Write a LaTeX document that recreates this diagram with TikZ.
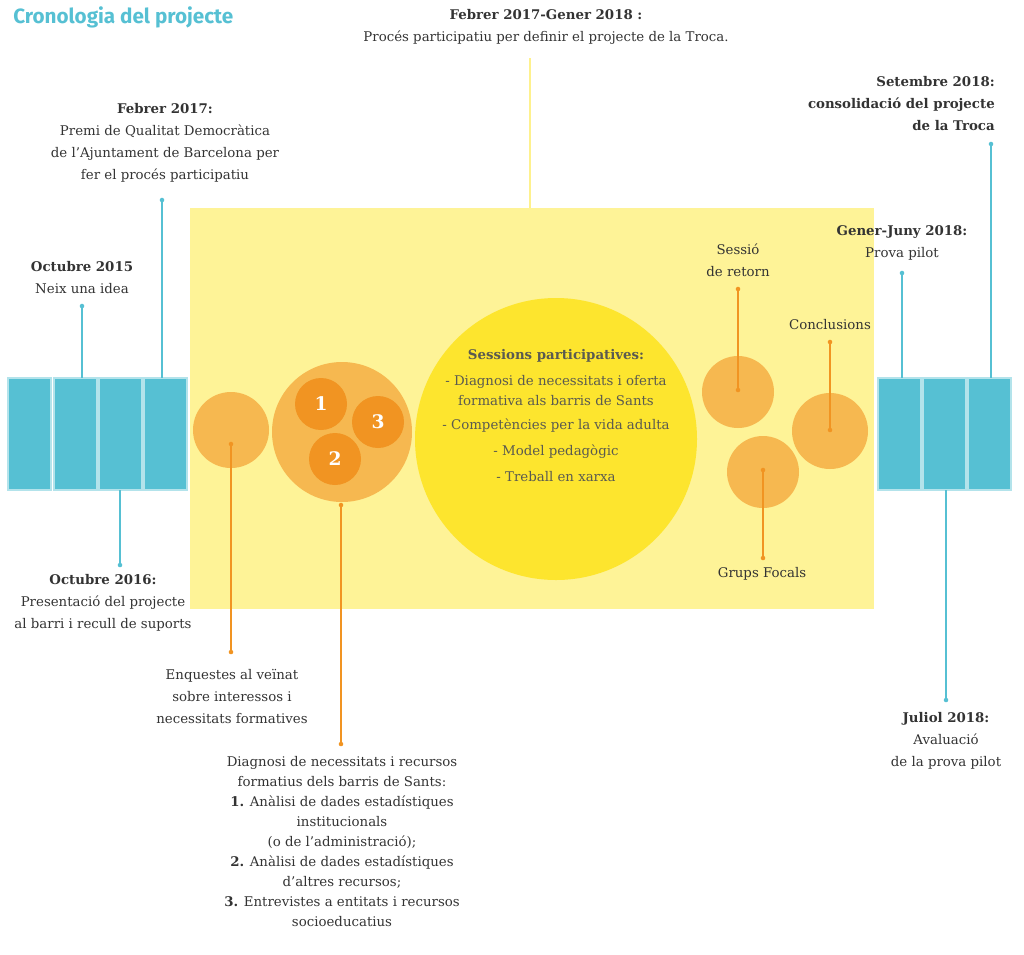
\documentclass[tikz,border=0pt]{standalone}
\usepackage{fontspec}
\setmainfont{DejaVu Serif}
\newfontfamily\headfont{Fira Sans}
\definecolor{cronoteal}{RGB}{86,192,211}
\definecolor{paleyellow}{RGB}{254,243,151}
\definecolor{sunyellow}{RGB}{253,229,46}
\definecolor{softorange}{RGB}{246,184,80}
\definecolor{deeporange}{RGB}{241,148,34}
\definecolor{inkgray}{RGB}{51,51,51}
\definecolor{suntext}{RGB}{90,90,80}
\begin{document}
\begin{tikzpicture}[x=0.75pt,y=-0.75pt,
  txt/.style={align=center,text=inkgray,font=\fontsize{10}{16.5}\selectfont,inner sep=0pt},
  yr/.style={fill=cronoteal,draw=cronoteal!45,line width=0.8pt,minimum width=32.25pt,minimum height=84pt,inner sep=0pt,outer sep=0pt},
  blob/.style={circle,fill=softorange,inner sep=0pt,outer sep=0pt},
  num/.style={circle,fill=deeporange,minimum size=39pt,inner sep=0pt,text=white,font=\bfseries\fontsize{14}{14}\selectfont},
  tline/.style={cronoteal,line width=1.3pt},
  oline/.style={deeporange,line width=1pt}]
  \useasboundingbox (0,0) rectangle (1024,954);
  \node[anchor=west,inner sep=0pt,text=cronoteal,font=\headfont\bfseries\fontsize{15.5}{15.5}\selectfont] (title) at (13,17) {Cronologia del projecte};
  % participatory phase
  \node[fill=paleyellow,minimum width=513pt,minimum height=300.75pt,inner sep=0pt,outer sep=0pt] (phase) at (532,408.5) {};
  \coordinate (ptop) at (530,58);
  \draw[paleyellow!90!sunyellow,line width=1.5pt] (ptop) -- (ptop |- phase.north);
  \node[txt] (tproc) at (546,27) {\textbf{Febrer 2017-Gener 2018 :}\\Procés participatiu per definir el projecte de la Troca.};
  % circles
  \node[blob,minimum size=57pt] (enq) at (231,430) {};
  \node[blob,minimum size=105pt] (diag) at (342,432) {};
  \node[num] (n1) at (321,404) {1};
  \node[num] (n3) at (378,422) {3};
  \node[num] (n2) at (335,459) {2};
  \node[circle,fill=sunyellow,minimum size=211.5pt,inner sep=0pt] (sun) at (556,439) {};
  \node[align=center,text=suntext,font=\fontsize{10}{15}\selectfont] (stxt) at (556,416)
    {\textbf{Sessions participatives:}\\[4.5pt]- Diagnosi de necessitats i oferta\\formativa als barris de Sants\\[3pt]- Competències per la vida adulta\\[4.5pt]- Model pedagògic\\[4.5pt]- Treball en xarxa};
  \node[blob,minimum size=54pt] (ses) at (738,392) {};
  \node[blob,minimum size=54pt] (gru) at (763,472) {};
  \node[blob,minimum size=57pt] (con) at (830,431) {};
  % orange leaders
  \coordinate (enqa) at (231,444);  \coordinate (enqb) at (231,652);
  \coordinate (diaa) at (341,505);  \coordinate (diab) at (341,744);
  \coordinate (sesa) at (738,289);  \coordinate (sesb) at (738,390);
  \coordinate (cona) at (830,342);  \coordinate (conb) at (830,430);
  \coordinate (grua) at (763,470);  \coordinate (grub) at (763,558);
  \foreach \a/\b in {enqa/enqb,diaa/diab,sesa/sesb,cona/conb,grua/grub}{
    \draw[oline] (\a) -- (\b);
    \fill[deeporange] (\a) circle (1.7pt) (\b) circle (1.7pt);
  }
  \node[txt] (tenq) at (232,696) {Enquestes al veïnat\\sobre interessos i\\necessitats formatives};
  \node[txt,font=\fontsize{10}{15}\selectfont] (tdia) at (342,842) {Diagnosi de necessitats i recursos\\formatius dels barris de Sants:\\\textbf{1.} Anàlisi de dades estadístiques\\institucionals\\(o de l’administració);\\\textbf{2.} Anàlisi de dades estadístiques\\d’altres recursos;\\\textbf{3.} Entrevistes a entitats i recursos\\socioeducatius};
  \node[txt] (tses) at (738,260) {Sessió\\de retorn};
  \node[txt] (tcon) at (830,325) {Conclusions};
  \node[txt] (tgru) at (762,574) {Grups Focals};
  % timeline blocks
  \node[yr] (l1) at (29.5,434) {};
  \node[yr] (l2) at (75.5,434) {};
  \node[yr] (l3) at (120.5,434) {};
  \node[yr] (l4) at (165.5,434) {};
  \node[yr] (r1) at (899.5,434) {};
  \node[yr] (r2) at (944.5,434) {};
  \node[yr] (r3) at (989.5,434) {};
  \coordinate (d15) at (82,306);
  \coordinate (d17) at (162,200);
  \coordinate (d16) at (120,565);
  \coordinate (dgen) at (902,273);
  \coordinate (dset) at (991,144);
  \coordinate (djul) at (946,700);
  \draw[tline] (d15) -- (d15 |- l2.north);
  \draw[tline] (d17) -- (d17 |- l4.north);
  \draw[tline] (d16 |- l3.south) -- (d16);
  \draw[tline] (dgen) -- (dgen |- r1.north);
  \draw[tline] (dset) -- (dset |- r3.north);
  \draw[tline] (djul |- r2.south) -- (djul);
  \fill[cronoteal] (d15) circle (1.7pt) (d17) circle (1.7pt) (d16) circle (1.7pt)
    (dgen) circle (1.7pt) (dset) circle (1.7pt) (djul) circle (1.7pt);
  \node[txt] (t15) at (82,278) {\textbf{Octubre 2015}\\Neix una idea};
  \node[txt] (t17) at (165,143) {\textbf{Febrer 2017:}\\Premi de Qualitat Democràtica\\de l’Ajuntament de Barcelona per\\fer el procés participatiu};
  \node[txt] (t16) at (103,603) {\textbf{Octubre 2016:}\\Presentació del projecte\\al barri i recull de suports};
  \node[txt,anchor=east,align=right] (tset) at (995,104) {\textbf{Setembre 2018:}\\\textbf{consolidació del projecte}\\\textbf{de la Troca}};
  \node[txt] (tgen) at (902,243) {\textbf{Gener-Juny 2018:}\\Prova pilot};
  \node[txt] (tjul) at (946,741) {\textbf{Juliol 2018:}\\Avaluació\\de la prova pilot};
\end{tikzpicture}
\end{document}
